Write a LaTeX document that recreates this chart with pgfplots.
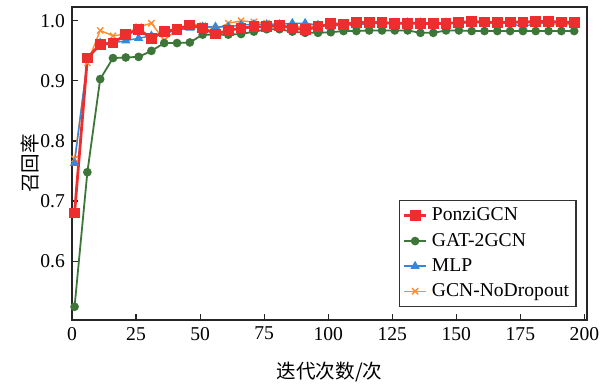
\documentclass[border=0pt]{standalone}
\usepackage{fontspec}
\setmainfont{Liberation Serif}
\newfontfamily\cjk{Noto Sans CJK SC}
\usepackage{pgfplots}
\pgfplotsset{compat=1.18}
\definecolor{cred}{RGB}{238,46,46}
\definecolor{cgreen}{RGB}{62,118,58}
\definecolor{cblue}{RGB}{52,136,214}
\definecolor{corange}{RGB}{255,140,50}
\begin{document}
\begin{tikzpicture}
\begin{axis}[
  scale only axis,
  width=257.5pt, height=156.5pt,
  xmin=0, xmax=201, ymin=0.502, ymax=1.023,
  xtick={0,25,...,200}, ytick={0.6,0.7,0.8,0.9,1.0},
  xticklabel={\textrm{\pgfmathprintnumber[assume math mode=true]{\tick}}},
  yticklabel={\textrm{\pgfmathprintnumber[assume math mode=true,fixed,fixed zerofill,precision=1]{\tick}}},
  tick align=inside, xtick pos=bottom, ytick pos=left,
  major tick length=3pt,
  tick style={line width=0.6pt, color=black!85},
  axis line style={line width=1.1pt, color=black!85},
  ticklabel style={font=\rmfamily\fontsize{9.8}{11}\selectfont},
  xlabel={\cjk 迭代次数/次},
  ylabel={\cjk 召回率},
  label style={font=\fontsize{9.8}{11}\selectfont},
  xlabel style={at={(axis description cs:0.5,-0.166)}, anchor=center},
  ylabel style={at={(axis description cs:-0.082,0.5)}, anchor=center, rotate=0},
  clip=false,
  reverse legend,
  legend cell align=left,
  legend style={at={(axis description cs:0.98,0.042)}, anchor=south east,
    font=\fontsize{9.8}{11}\selectfont, draw=black!80, line width=0.6pt,
    row sep=0.6pt, inner sep=1.5pt},
  legend image code/.code={\draw[mark repeat=2,mark phase=2] plot coordinates {(0cm,0cm)(0.2cm,0cm)(0.4cm,0cm)};},
]
\path (rel axis cs:-0.1398,-0.2077) rectangle (rel axis cs:1.0447,1.0224);
\addplot[color=corange, line width=0.7pt, mark=x, mark size=2.2pt] coordinates {
(1,0.77)(6,0.93)(11,0.984)(16,0.975)(21,0.978)(26,0.99)(31,0.996)(36,0.968)(41,0.985)(46,0.995)
(51,0.992)(56,0.986)(61,0.996)(66,1.0)(71,0.998)(76,0.996)(81,0.993)(86,0.99)(91,0.99)(96,0.992)
(101,0.994)(106,0.996)(111,0.995)(116,0.996)(121,0.996)(126,0.995)(131,0.996)(136,0.995)(141,0.994)(146,0.997)
(151,0.997)(156,0.998)(161,0.997)(166,0.997)(171,0.997)(176,0.996)(181,0.997)(186,0.997)(191,0.991)(196,0.996)};
\addlegendentry{GCN-NoDropout}
\addplot[color=cblue, line width=0.7pt, mark=triangle*, mark size=2pt] coordinates {
(1,0.763)(6,0.935)(11,0.963)(16,0.963)(21,0.967)(26,0.971)(31,0.975)(36,0.979)(41,0.984)(46,0.988)
(51,0.99)(56,0.99)(61,0.99)(66,0.993)(71,0.994)(76,0.994)(81,0.994)(86,0.996)(91,0.996)(96,0.993)
(101,0.99)(106,0.994)(111,0.992)(116,0.996)(121,0.997)(126,0.996)(131,0.997)(136,0.997)(141,0.996)(146,0.997)
(151,0.996)(156,0.997)(161,0.997)(166,0.996)(171,0.996)(176,0.99)(181,0.996)(186,0.996)(191,0.997)(196,0.995)};
\addlegendentry{MLP}
\addplot[color=cgreen, line width=0.9pt, mark=*, mark size=1.7pt] coordinates {
(1,0.524)(6,0.748)(11,0.903)(16,0.938)(21,0.939)(26,0.94)(31,0.95)(36,0.963)(41,0.963)(46,0.964)
(51,0.977)(56,0.977)(61,0.977)(66,0.978)(71,0.982)(76,0.986)(81,0.986)(86,0.982)(91,0.98)(96,0.98)
(101,0.981)(106,0.983)(111,0.983)(116,0.984)(121,0.984)(126,0.984)(131,0.984)(136,0.98)(141,0.98)(146,0.984)
(151,0.984)(156,0.983)(161,0.983)(166,0.983)(171,0.983)(176,0.983)(181,0.983)(186,0.983)(191,0.983)(196,0.983)};
\addlegendentry{GAT-2GCN}
\addplot[color=cred, line width=1.4pt, mark=square*, mark size=2pt] coordinates {
(1,0.68)(6,0.938)(11,0.961)(16,0.963)(21,0.977)(26,0.986)(31,0.971)(36,0.982)(41,0.986)(46,0.993)
(51,0.988)(56,0.978)(61,0.984)(66,0.988)(71,0.99)(76,0.99)(81,0.992)(86,0.988)(91,0.985)(96,0.99)
(101,0.995)(106,0.994)(111,0.997)(116,0.997)(121,0.997)(126,0.996)(131,0.996)(136,0.996)(141,0.995)(146,0.996)
(151,0.997)(156,0.999)(161,0.998)(166,0.997)(171,0.998)(176,0.998)(181,0.999)(186,0.999)(191,0.998)(196,0.997)};
\addlegendentry{PonziGCN}
\end{axis}
\end{tikzpicture}
\end{document}
